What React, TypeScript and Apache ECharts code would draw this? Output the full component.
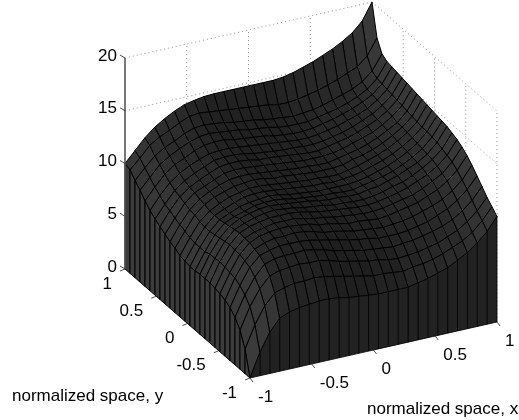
import React, { useEffect, useRef } from "react";
import * as echarts from "echarts";

const xTickValues = [-1, -0.5, 0, 0.5, 1];
const yTickValues = [-1, -0.5, 0, 0.5, 1];
const zTickValues = [0, 5, 10, 15, 20];
const xTitle = "normalized space, x";
const yTitle = "normalized space, y";
const gridStep = 0.08;

// Heights; rows run along y (-1 to 1), columns along x (-1 to 1).
const heights = [
  [0,2.2,3.9,5.0,5.4,5.6,5.7,5.8,5.8,5.7,5.5,5.4,5.3,5.2,5.2,5.2,5.2,5.4,5.6,5.9,6.2,6.7,7.2,7.9,8.8,10],
  [2.3,4.4,6.0,7.0,7.3,7.5,7.5,7.6,7.5,7.3,7.1,6.9,6.7,6.5,6.5,6.4,6.3,6.5,6.6,6.8,7.1,7.5,7.9,8.5,9.4,10.5],
  [3.7,5.7,7.2,8.2,8.5,8.6,8.7,8.6,8.6,8.4,8.1,7.9,7.7,7.5,7.4,7.2,7.1,7.2,7.3,7.5,7.7,8.1,8.5,9.1,9.9,11.0],
  [4.5,6.4,7.9,8.9,9.2,9.3,9.3,9.4,9.2,9.0,8.7,8.5,8.3,8.1,8.0,7.9,7.8,7.9,8.0,8.2,8.4,8.7,9.1,9.7,10.5,11.6],
  [5,6.9,8.4,9.3,9.6,9.8,9.8,9.8,9.7,9.5,9.3,9.1,8.9,8.7,8.6,8.4,8.4,8.4,8.5,8.7,8.9,9.3,9.7,10.3,11.1,12.2],
  [5.3,7.2,8.6,9.5,9.9,10.1,10.1,10.2,10.1,9.9,9.6,9.5,9.3,9.1,9.0,8.9,8.8,8.9,9.0,9.2,9.5,9.8,10.2,10.8,11.6,12.8],
  [5.5,7.3,8.8,9.7,10.1,10.3,10.4,10.4,10.3,10.2,9.9,9.8,9.6,9.4,9.4,9.3,9.2,9.3,9.5,9.7,9.9,10.3,10.7,11.3,12.1,13.3],
  [5.6,7.4,8.8,9.7,10.1,10.3,10.5,10.5,10.5,10.3,10.1,10.0,9.8,9.7,9.6,9.5,9.5,9.6,9.8,10.0,10.2,10.6,11.1,11.6,12.5,13.7],
  [5.7,7.5,8.9,9.8,10.2,10.4,10.6,10.6,10.6,10.5,10.3,10.1,10.0,9.9,9.8,9.7,9.7,9.8,10.0,10.2,10.5,10.9,11.3,11.9,12.7,14.0],
  [5.7,7.4,8.8,9.7,10.1,10.4,10.6,10.7,10.6,10.5,10.3,10.2,10.1,9.9,9.9,9.8,9.8,9.9,10.1,10.4,10.6,11.0,11.5,12.1,12.9,14.2],
  [5.7,7.4,8.7,9.6,10.1,10.4,10.6,10.7,10.6,10.5,10.4,10.3,10.1,10.0,10.0,9.9,9.9,10.1,10.2,10.5,10.8,11.2,11.6,12.2,13.1,14.4],
  [5.6,7.2,8.6,9.5,9.9,10.2,10.5,10.6,10.6,10.5,10.3,10.2,10.1,10.0,10.0,9.9,9.9,10.1,10.3,10.5,10.8,11.2,11.7,12.3,13.2,14.5],
  [5.6,7.2,8.5,9.4,9.8,10.2,10.4,10.5,10.6,10.5,10.3,10.2,10.1,10.0,10.0,10.0,10.0,10.1,10.3,10.6,10.9,11.3,11.8,12.4,13.3,14.6],
  [5.7,7.2,8.5,9.4,9.8,10.2,10.5,10.6,10.6,10.5,10.4,10.3,10.2,10.1,10.1,10.0,10.1,10.2,10.4,10.7,11.0,11.4,11.9,12.5,13.3,14.7],
  [5.8,7.3,8.6,9.4,9.9,10.3,10.5,10.7,10.7,10.6,10.5,10.4,10.3,10.2,10.2,10.1,10.1,10.3,10.5,10.8,11.1,11.5,12.0,12.6,13.4,14.8],
  [6.1,7.5,8.8,9.6,10.1,10.4,10.7,10.8,10.9,10.8,10.6,10.6,10.5,10.4,10.3,10.3,10.3,10.4,10.7,10.9,11.2,11.6,12.1,12.7,13.5,14.9],
  [6.3,7.7,8.9,9.7,10.2,10.6,10.9,11.0,11.0,10.9,10.8,10.7,10.6,10.5,10.5,10.4,10.4,10.6,10.8,11.0,11.3,11.7,12.2,12.7,13.6,15.0],
  [6.6,7.9,9.1,9.9,10.3,10.7,11.1,11.2,11.2,11.1,11.0,10.9,10.8,10.7,10.6,10.6,10.6,10.7,10.9,11.2,11.5,11.8,12.3,12.9,13.7,15.1],
  [6.9,8.2,9.3,10.0,10.5,10.9,11.3,11.4,11.4,11.3,11.1,11.1,11.0,10.9,10.8,10.7,10.7,10.9,11.1,11.3,11.6,12.0,12.4,13.0,13.8,15.2],
  [7.2,8.4,9.5,10.2,10.7,11.1,11.5,11.6,11.6,11.5,11.3,11.2,11.1,11.0,11.0,10.9,10.9,11.0,11.2,11.4,11.7,12.1,12.5,13.1,13.9,15.3],
  [7.6,8.8,9.8,10.5,11.0,11.4,11.7,11.8,11.8,11.7,11.6,11.5,11.4,11.3,11.2,11.1,11.1,11.2,11.4,11.6,11.9,12.2,12.6,13.2,14.0,15.4],
  [8.1,9.2,10.2,10.9,11.3,11.8,12.1,12.2,12.2,12.0,11.9,11.8,11.7,11.5,11.4,11.3,11.3,11.4,11.6,11.8,12.1,12.4,12.8,13.3,14.1,15.5],
  [8.7,9.7,10.7,11.3,11.8,12.2,12.5,12.6,12.5,12.4,12.3,12.1,12.0,11.9,11.7,11.6,11.6,11.6,11.8,12.0,12.2,12.5,12.9,13.4,14.2,15.6],
  [9.2,10.2,11.1,11.7,12.1,12.6,12.9,13.0,12.9,12.8,12.6,12.5,12.4,12.2,12.1,12.0,11.9,12.0,12.1,12.3,12.6,12.9,13.2,13.7,14.5,15.9],
  [9.8,10.7,11.7,12.3,12.7,13.2,13.6,13.7,13.6,13.5,13.4,13.3,13.2,13.1,13.0,12.8,12.8,12.9,13.1,13.3,13.6,13.9,14.3,14.7,15.5,17.0],
  [10,11,12,12.8,13.4,13.9,14.3,14.5,14.65,14.7,14.7,14.7,14.7,14.7,14.7,14.7,14.8,15,15.3,15.6,16,16.4,16.9,17.5,18.4,20],
];

const FONT = '17px "Liberation Sans", Arial, sans-serif';

// Fixed view of the box: where the floor corner (-1,-1) sits and how each axis runs on the page.
function project(x: number, y: number, z: number): [number, number] {
  return [
    250 + (x + 1) * 123.5 - (y + 1) * 62.5,
    378 - (x + 1) * 28 - (y + 1) * 54.5 - z * 10.55,
  ];
}
const gx = (i: number) => -1 + i * gridStep;

function grayFor(i: number, j: number) {
  const zx = (heights[j][i + 1] + heights[j + 1][i + 1] - heights[j][i] - heights[j + 1][i]) / (2 * gridStep);
  const nx = zx / Math.sqrt(zx * zx + 100);
  const d = nx - 0.45;
  const g = Math.max(20, Math.min(90, 42 + (d > 0 ? 34 : 16) * d));
  const v = Math.round(g);
  return `rgb(${v},${v},${v})`;
}

function polygonItem(api: any, corners: [number, number, number][], fill: string, lw: number) {
  return {
    type: "polygon",
    shape: { points: corners.map((c) => api.coord(project(c[0], c[1], c[2]))) },
    style: { fill, stroke: "#000", lineWidth: lw },
  };
}

export default function App() {
  const ref = useRef<HTMLDivElement>(null);
  useEffect(() => {
    document.body.style.margin = "0";
    const chart = echarts.init(ref.current!, null, { renderer: "svg" });
    const n = heights.length;

    const cells: number[][] = [];
    for (let j = n - 2; j >= 0; j--) for (let i = n - 2; i >= 0; i--) cells.push([i, j]);
    const frontWall: number[][] = [];
    for (let i = n - 2; i >= 0; i--) frontWall.push([i, 0]);
    const leftWall: number[][] = [];
    for (let j = n - 2; j >= 0; j--) leftWall.push([j, 0]);

    const guides: number[][] = [];
    zTickValues.slice(1).forEach((z) => {
      guides.push([-1, 1, z, 1, 1, z]);
      guides.push([1, 1, z, 1, -1, z]);
    });
    xTickValues.slice(1).forEach((x) => guides.push([x, 1, 0, x, 1, 20]));
    yTickValues.slice(0, -1).forEach((y) => guides.push([1, y, 0, 1, y, 20]));

    const lineSeries = (name: string, data: number[][], stroke: string, lw: number, dash?: number[]) => ({
      type: "custom",
      name,
      silent: true,
      clip: false,
      coordinateSystem: "cartesian2d",
      data,
      renderItem: (_: any, api: any) => {
        const a = api.coord(project(api.value(0), api.value(1), api.value(2)));
        const b = api.coord(project(api.value(3), api.value(4), api.value(5)));
        return {
          type: "line",
          shape: { x1: a[0], y1: a[1], x2: b[0], y2: b[1] },
          style: { stroke, lineWidth: lw, lineDash: dash },
        };
      },
    });

    const labelSeries = (
      name: string,
      data: number[],
      place: (v: number) => [number, number, number, number],
      tickDx: number,
      tickDy: number,
      textDx: number,
      textDy: number,
      align: string,
    ) => ({
      type: "custom",
      name,
      silent: true,
      clip: false,
      coordinateSystem: "cartesian2d",
      data: data.map((v) => [v]),
      renderItem: (_: any, api: any) => {
        const v = api.value(0);
        const [bx, by, bz] = place(v);
        const p = api.coord(project(bx, by, bz));
        return {
          type: "group",
          children: [
            {
              type: "line",
              shape: { x1: p[0], y1: p[1], x2: p[0] + tickDx, y2: p[1] + tickDy },
              style: { stroke: "#222", lineWidth: 0.8 },
            },
            {
              type: "text",
              style: {
                text: String(v),
                x: p[0] + textDx,
                y: p[1] + textDy,
                font: FONT,
                fill: "#000",
                align,
                verticalAlign: "middle",
              },
            },
          ],
        };
      },
    });

    chart.setOption({
      animation: false,
      grid: { left: 0, right: 0, top: 0, bottom: 0 },
      xAxis: { type: "value", min: 0, max: 519, show: false },
      yAxis: { type: "value", min: 0, max: 420, inverse: true, show: false },
      series: [
        lineSeries("guides", guides, "#777", 0.8, [1, 3]),
        {
          type: "custom",
          name: "surface",
          silent: true,
          clip: false,
          coordinateSystem: "cartesian2d",
          data: cells,
          renderItem: (_: any, api: any) => {
            const i = api.value(0);
            const j = api.value(1);
            return polygonItem(
              api,
              [
                [gx(i), gx(j), heights[j][i]],
                [gx(i + 1), gx(j), heights[j][i + 1]],
                [gx(i + 1), gx(j + 1), heights[j + 1][i + 1]],
                [gx(i), gx(j + 1), heights[j + 1][i]],
              ],
              grayFor(i, j),
              1,
            );
          },
        },
        {
          type: "custom",
          name: "wall y=-1",
          silent: true,
          clip: false,
          coordinateSystem: "cartesian2d",
          data: frontWall,
          renderItem: (_: any, api: any) => {
            const i = api.value(0);
            return polygonItem(
              api,
              [
                [gx(i), -1, 0],
                [gx(i + 1), -1, 0],
                [gx(i + 1), -1, heights[0][i + 1]],
                [gx(i), -1, heights[0][i]],
              ],
              "#222",
              0.8,
            );
          },
        },
        {
          type: "custom",
          name: "wall x=-1",
          silent: true,
          clip: false,
          coordinateSystem: "cartesian2d",
          data: leftWall,
          renderItem: (_: any, api: any) => {
            const j = api.value(0);
            return polygonItem(
              api,
              [
                [-1, gx(j), 0],
                [-1, gx(j + 1), 0],
                [-1, gx(j + 1), heights[j + 1][0]],
                [-1, gx(j), heights[j][0]],
              ],
              "#3c3c3c",
              1,
            );
          },
        },
        lineSeries("z axis", [[-1, 1, 0, -1, 1, 20]], "#555", 1.6),
        labelSeries("z ticks", zTickValues, (v) => [-1, 1, v, 0], -5, -3, -8, -3, "right"),
        labelSeries("x ticks", xTickValues, (v) => [v, -1, 0, 0], 3, 4, 8, 18, "left"),
        labelSeries("y ticks", yTickValues, (v) => [-1, v, 0, 0], -5, 2, -13, 14, "right"),
      ],
      graphic: [
        { type: "text", x: 12, y: 395, style: { text: yTitle, font: FONT, fill: "#000", verticalAlign: "middle" } },
        { type: "text", x: 367, y: 408, style: { text: xTitle, font: FONT, fill: "#000", verticalAlign: "middle" } },
      ],
    });
    return () => chart.dispose();
  }, []);
  return <div ref={ref} style={{ position: "fixed", left: 0, top: 0, width: 519, height: 420 }} />;
}
